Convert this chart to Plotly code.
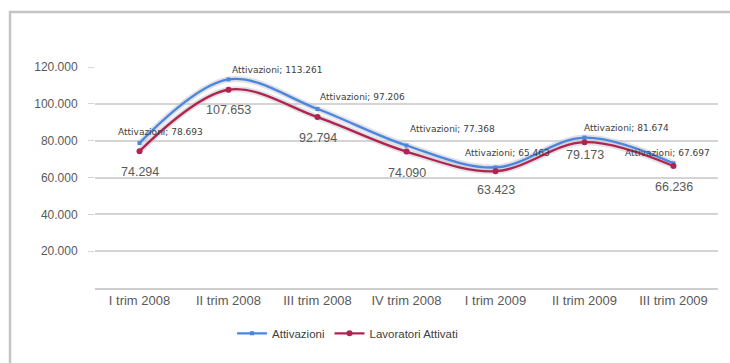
import plotly.graph_objects as go

categories = ["I trim 2008", "II trim 2008", "III trim 2008", "IV trim 2008",
              "I trim 2009", "II trim 2009", "III trim 2009"]
attivazioni = [78693, 113261, 97206, 77368, 65463, 81674, 67697]
lavoratori = [74294, 107653, 92794, 74090, 63423, 79173, 66236]
y_ticks = [20000, 40000, 60000, 80000, 100000, 120000]

# label offsets (pixels) for the data labels
att_dx = [-24, 1, 0, 1, -33, -3, -51]
att_dy = [11, 9, 12, 17, 14, 10, 10]
lav_dy = [-21, -20, -21, -21, -19, -13, -21]

BLUE = "#4a85e0"
RED = "#b02450"
FONT = "Liberation Sans"

def fmt(v):
    return f"{v:,}".replace(",", ".")

fig = go.Figure()
# soft halo under lines
for vals in (attivazioni, lavoratori):
    fig.add_trace(go.Scatter(x=categories, y=vals, mode="lines",
                             line=dict(color="rgba(200,200,210,0.55)", width=6, shape="spline", smoothing=1),
                             showlegend=False, hoverinfo="skip"))
fig.add_trace(go.Scatter(x=categories, y=attivazioni, mode="lines+markers", name="Attivazioni",
                         line=dict(color=BLUE, width=2.3, shape="spline", smoothing=1),
                         marker=dict(color=BLUE, size=4, symbol="square")))
fig.add_trace(go.Scatter(x=categories, y=lavoratori, mode="lines+markers", name="Lavoratori Attivati",
                         line=dict(color=RED, width=2.3, shape="spline", smoothing=1),
                         marker=dict(color=RED, size=6, symbol="circle")))

for i, (c, v) in enumerate(zip(categories, attivazioni)):
    fig.add_annotation(x=c, y=v, text=f"Attivazioni; {fmt(v)}", showarrow=False,
                       xanchor="left", yanchor="middle", xshift=att_dx[i], yshift=att_dy[i],
                       font=dict(family="DejaVu Sans", size=9, color="#404040"))
for i, (c, v) in enumerate(zip(categories, lavoratori)):
    fig.add_annotation(x=c, y=v, text=fmt(v), showarrow=False,
                       xanchor="center", yanchor="middle", yshift=lav_dy[i],
                       font=dict(family=FONT, size=12.5, color="#595959"))

# outer chart frame (left and top edges visible)
fig.add_shape(type="rect", xref="paper", yref="paper",
              x0=-0.1364, x1=1.05, y0=-0.45, y1=1.2489,
              line=dict(color="#c4c4c4", width=2.5), layer="below")

fig.update_layout(
    width=730, height=363,
    margin=dict(l=95, r=12, t=67, b=75),
    paper_bgcolor="white", plot_bgcolor="white",
    separators=",.",
    font=dict(family=FONT, size=11, color="#595959"),
    showlegend=True,
    legend=dict(orientation="h", x=0.22, xanchor="left", y=-0.205, yanchor="middle",
                font=dict(family=FONT, size=11.5, color="#404040"), bgcolor="rgba(0,0,0,0)",
                itemwidth=30),
)
fig.update_xaxes(type="category", range=[-0.5, 6.5], showgrid=False,
                 showline=True, linecolor="#cfcfcf", linewidth=1.5,
                 ticks="", tickfont=dict(family=FONT, size=13, color="#595959"), fixedrange=True)
fig.update_yaxes(range=[0, 120000], tickvals=y_ticks, tickformat=",d",
                 showgrid=True, gridcolor="#d4d4d4", gridwidth=1.5, zeroline=False,
                 ticks="outside", ticklen=6, tickcolor="#d4d4d4", ticklabelstandoff=8,
                 tickfont=dict(family=FONT, size=12, color="#595959"), fixedrange=True)

fig.write_html("out.html")
